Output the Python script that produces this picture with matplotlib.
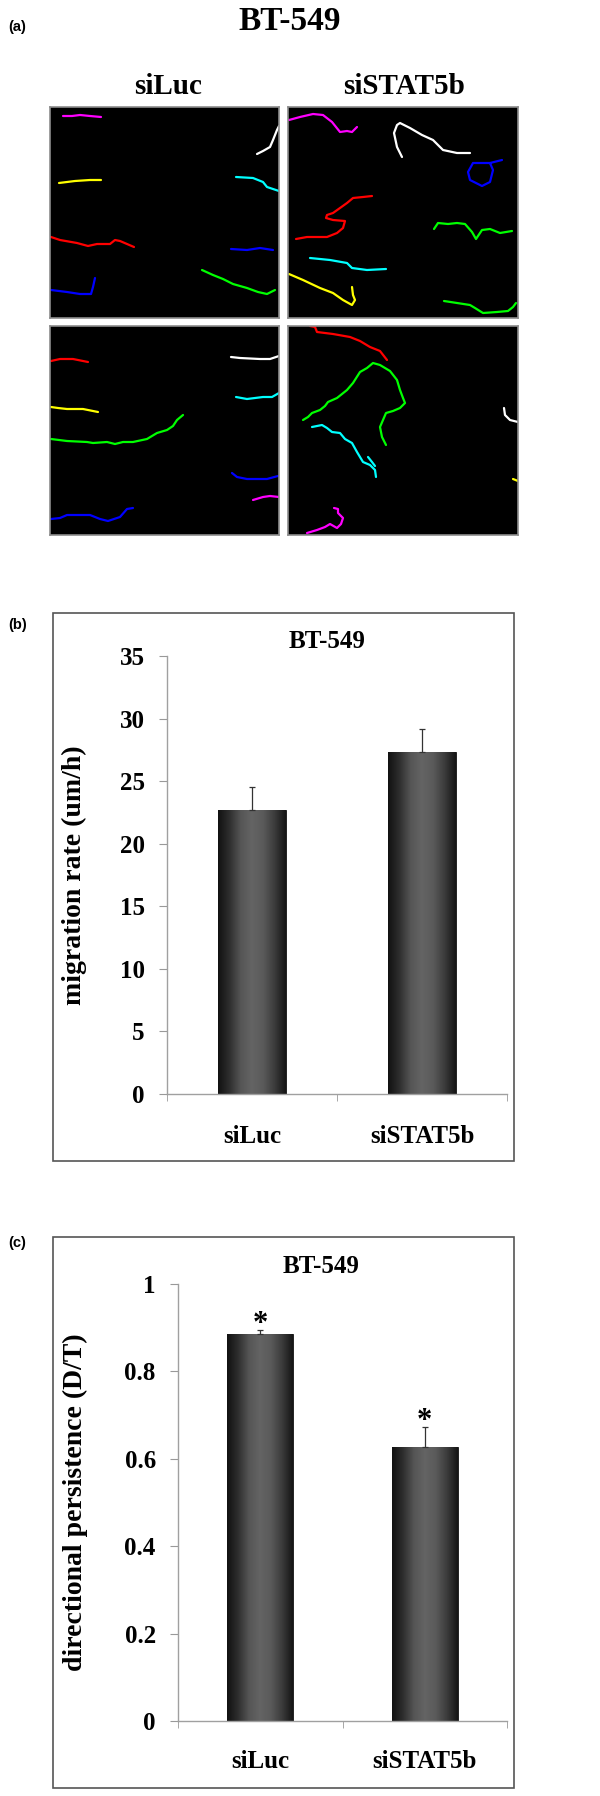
import numpy as np
import matplotlib
matplotlib.use("Agg")
import matplotlib.pyplot as plt
from matplotlib.colors import LinearSegmentedColormap
from matplotlib.patches import Rectangle

W, H = 600, 1796

# ---- data -------------------------------------------------------------
groups = ["siLuc", "siSTAT5b"]

migration_rate = [22.7, 27.3]
migration_err = [1.8, 1.9]

persistence = [0.885, 0.627]
persistence_err = [0.009, 0.045]
persistence_sig = ["*", "*"]

rate_ticks = [0, 5, 10, 15, 20, 25, 30, 35]
pers_ticks = [0, 0.2, 0.4, 0.6, 0.8, 1.0]
pers_tick_labels = ["0", "0.2", "0.4", "0.6", "0.8", "1"]

# cell tracks (image pixel coords, origin top-left of each frame)
tracks_luc_top = [
    ("#ff00ff", [(13, 9), (22, 9), (30, 8), (40, 9), (51, 10)]),
    ("#ffffff", [(207, 47), (213, 44), (220, 40), (223, 33), (225, 28), (227, 23), (229, 19)]),
    ("#ffff00", [(9, 76), (25, 74), (40, 73), (51, 73)]),
    ("#00ffff", [(186, 70), (203, 71), (213, 75), (217, 80), (229, 84)]),
    ("#ff0000", [(1, 130), (10, 133), (27, 136), (38, 139), (47, 137), (60, 137), (65, 133),
                 (70, 134), (77, 137), (84, 140)]),
    ("#0000ff", [(181, 142), (197, 143), (210, 141), (223, 143)]),
    ("#00ff00", [(152, 163), (163, 168), (173, 172), (183, 177), (197, 181), (208, 185),
                 (217, 187), (225, 183)]),
    ("#0000ff", [(1, 183), (17, 185), (30, 187), (41, 187), (43, 180), (45, 171)]),
]

tracks_stat_top = [
    ("#ff00ff", [(1, 13), (12, 10), (25, 7), (35, 8), (44, 15), (52, 25), (59, 24), (64, 25), (69, 20)]),
    ("#ffffff", [(114, 50), (109, 40), (106, 26), (109, 18), (112, 16), (122, 21), (134, 28),
                 (145, 33), (155, 43), (169, 46), (182, 46)]),
    ("#0000ff", [(214, 53), (202, 56), (185, 56), (180, 65), (182, 73), (194, 79), (202, 75),
                 (205, 63), (202, 56)]),
    ("#ff0000", [(84, 89), (75, 90), (65, 91), (59, 96), (45, 106), (39, 108), (38, 111), (45, 113),
                 (57, 114), (55, 121), (49, 126), (39, 130), (29, 130), (19, 130), (8, 132)]),
    ("#00ff00", [(146, 122), (150, 116), (160, 117), (169, 116), (177, 117), (184, 125), (188, 132),
                 (194, 123), (202, 122), (212, 126), (224, 124)]),
    ("#00ffff", [(22, 151), (42, 153), (59, 156), (64, 161), (79, 163), (98, 162)]),
    ("#ffff00", [(1, 167), (15, 173), (32, 181), (45, 186), (55, 193), (64, 198), (67, 193),
                 (65, 188), (64, 180)]),
    ("#00ff00", [(156, 194), (169, 196), (182, 198), (187, 201), (195, 206), (209, 205), (220, 204),
                 (225, 200), (228, 196)]),
]

tracks_luc_bottom = [
    ("#ff0000", [(1, 35), (10, 33), (23, 33), (33, 35), (38, 36)]),
    ("#ffffff", [(181, 31), (190, 32), (210, 33), (220, 33), (229, 30)]),
    ("#00ffff", [(186, 71), (197, 73), (213, 71), (222, 71), (229, 67)]),
    ("#ffff00", [(1, 81), (8, 82), (17, 83), (33, 83), (48, 86)]),
    ("#00ff00", [(1, 113), (17, 115), (37, 116), (43, 117), (57, 116), (65, 118), (73, 116),
                 (83, 116), (97, 113), (107, 107), (117, 104), (123, 100), (127, 94), (133, 89)]),
    ("#0000ff", [(182, 147), (187, 151), (197, 153), (217, 153), (228, 150)]),
    ("#ff00ff", [(203, 174), (213, 171), (220, 170), (229, 171)]),
    ("#0000ff", [(1, 193), (10, 192), (17, 189), (30, 189), (40, 189), (50, 193), (58, 195),
                 (70, 191), (77, 183), (83, 182)]),
]

tracks_stat_bottom = [
    ("#ff0000", [(22, 0), (27, 1), (29, 6), (45, 8), (62, 11), (72, 15), (82, 21), (92, 25), (99, 34)]),
    ("#00ff00", [(15, 94), (20, 91), (24, 87), (32, 84), (37, 80), (40, 76), (49, 72), (59, 64),
                 (65, 57), (72, 46), (79, 42), (85, 37), (92, 39), (102, 45), (109, 54), (112, 64),
                 (115, 72), (117, 77), (112, 82), (105, 85), (98, 87), (95, 94), (92, 101),
                 (94, 111), (98, 119)]),
    ("#00ffff", [(24, 101), (34, 99), (39, 102), (44, 106), (52, 107), (57, 113), (64, 117),
                 (69, 126), (75, 136), (82, 139), (87, 144), (88, 151)]),
    ("#00ffff", [(80, 131), (84, 136), (87, 140)]),
    ("#ffffff", [(216, 82), (217, 89), (222, 94), (230, 96)]),
    ("#ffff00", [(225, 153), (230, 155)]),
    ("#ff00ff", [(19, 207), (29, 204), (37, 201), (42, 198), (49, 202), (53, 198), (55, 192),
                 (50, 187), (50, 183), (46, 182)]),
]

# ---- style ------------------------------------------------------------
SERIF = ["Liberation Serif", "DejaVu Serif"]
SANS = ["Liberation Sans", "DejaVu Sans"]
plt.rcParams["font.family"] = SERIF
plt.rcParams["font.weight"] = "bold"
plt.rcParams["axes.labelweight"] = "bold"

bar_cmap = LinearSegmentedColormap.from_list(
    "cyl", ["#111111", "#2e2e2e", "#555555", "#646464", "#5a5a5a", "#3c3c3c", "#151515"])

fig = plt.figure(figsize=(W / 100, H / 100), dpi=100)


def px_axes(x0, y0, x1, y1):
    return fig.add_axes([x0 / W, 1 - y1 / H, (x1 - x0) / W, (y1 - y0) / H])


def px_text(x, y, s, **kw):
    fig.text(x / W, 1 - y / H, s, **kw)


def px_box(x0, y0, x1, y1):
    fig.patches.append(Rectangle((x0 / W, 1 - y1 / H), (x1 - x0) / W, (y1 - y0) / H,
                                 transform=fig.transFigure, fill=False,
                                 edgecolor="#555555", lw=1.2))


# ---- panel (a) --------------------------------------------------------
px_text(8, 27, "(a)", family=SANS, fontsize=10.5, weight="bold", va="center")
px_text(290, 22, "BT-549", fontsize=24, ha="center", va="center")
px_text(168, 87, "siLuc", fontsize=21, ha="center", va="center")
px_text(404, 87, "siSTAT5b", fontsize=21, ha="center", va="center")

frames = [
    ((50, 107, 279, 318), tracks_luc_top),
    ((288, 107, 518, 318), tracks_stat_top),
    ((50, 326, 279, 535), tracks_luc_bottom),
    ((288, 326, 518, 535), tracks_stat_bottom),
]
for (x0, y0, x1, y1), tracks in frames:
    ax = px_axes(x0, y0, x1, y1)
    ax.set_facecolor("black")
    for color, pts in tracks:
        xs, ys = zip(*pts)
        ax.plot(xs, ys, color=color, lw=1.6, solid_joinstyle="round", solid_capstyle="round")
    ax.set_xlim(0, x1 - x0)
    ax.set_ylim(y1 - y0, 0)
    ax.set_xticks([])
    ax.set_yticks([])
    for s in ax.spines.values():
        s.set_color("#8c8c8c")
        s.set_linewidth(1.2)


# ---- bar panels -------------------------------------------------------
def bar_panel(ax, values, errs, ymax, ticks, tick_labels, ylabel, label_x, title_xy, xpad):
    x = np.arange(len(values))
    bars = ax.bar(x, values, width=0.4, color="#333333", edgecolor="#111111", lw=0.6, zorder=2)
    grad = np.linspace(0, 1, 256).reshape(1, -1)
    for b in bars:
        im = ax.imshow(grad, cmap=bar_cmap, aspect="auto", zorder=2.5,
                       extent=[b.get_x(), b.get_x() + b.get_width(), 0, b.get_height()])
        im.set_clip_path(b)
    ax.errorbar(x, values, yerr=[np.zeros(len(errs)), errs], fmt="none",
                ecolor="#333333", elinewidth=0.9, capsize=2.5, capthick=0.9, zorder=3)

    ax.set_xlim(-0.5, len(values) - 0.5)
    ax.set_ylim(0, ymax)
    ax.set_yticks(ticks)
    ax.set_yticklabels(tick_labels)
    ax.set_xticks(x)
    ax.set_xticklabels(groups)
    ax.set_xticks(np.arange(len(values) + 1) - 0.5, minor=True)
    ax.tick_params(axis="x", which="major", length=0, pad=xpad, labelsize=18)
    ax.tick_params(axis="x", which="minor", length=5, color="#999999", direction="out")
    ax.tick_params(axis="y", length=6, color="#999999", pad=10, labelsize=18)
    for s in ["top", "right"]:
        ax.spines[s].set_visible(False)
    for s in ["left", "bottom"]:
        ax.spines[s].set_color("#a0a0a0")
        ax.spines[s].set_linewidth(1.0)
    ax.set_ylabel(ylabel, fontsize=20, weight="bold")
    ax.yaxis.set_label_coords(label_x, 0.5)
    ax.text(title_xy[0], title_xy[1], "BT-549", transform=ax.transAxes,
            fontsize=18, ha="center", va="center")
    return x


# (b) migration rate
px_text(8, 625, "(b)", family=SANS, fontsize=10.5, weight="bold", va="center")
px_box(53, 613, 514, 1161)
ax_b = px_axes(167, 656, 507, 1094)
bar_panel(ax_b, migration_rate, migration_err, 35, rate_ticks,
          [str(t) for t in rate_ticks], "migration rate (um/h)",
          -0.235, (0.47, 1.032), 22)

# (c) directional persistence
px_text(8, 1243, "(c)", family=SANS, fontsize=10.5, weight="bold", va="center")
px_box(53, 1237, 514, 1788)
ax_c = px_axes(178, 1284, 507, 1721)
xc = bar_panel(ax_c, persistence, persistence_err, 1.0, pers_ticks,
               pers_tick_labels, "directional persistence (D/T)",
               -0.275, (0.435, 1.041), 21)
for xi, v, e, s in zip(xc, persistence, persistence_err, persistence_sig):
    ax_c.annotate(s, (xi, v + e), xytext=(0, -6), textcoords="offset points",
                  ha="center", va="bottom", fontsize=22)

fig.savefig("out.png", dpi=100)
